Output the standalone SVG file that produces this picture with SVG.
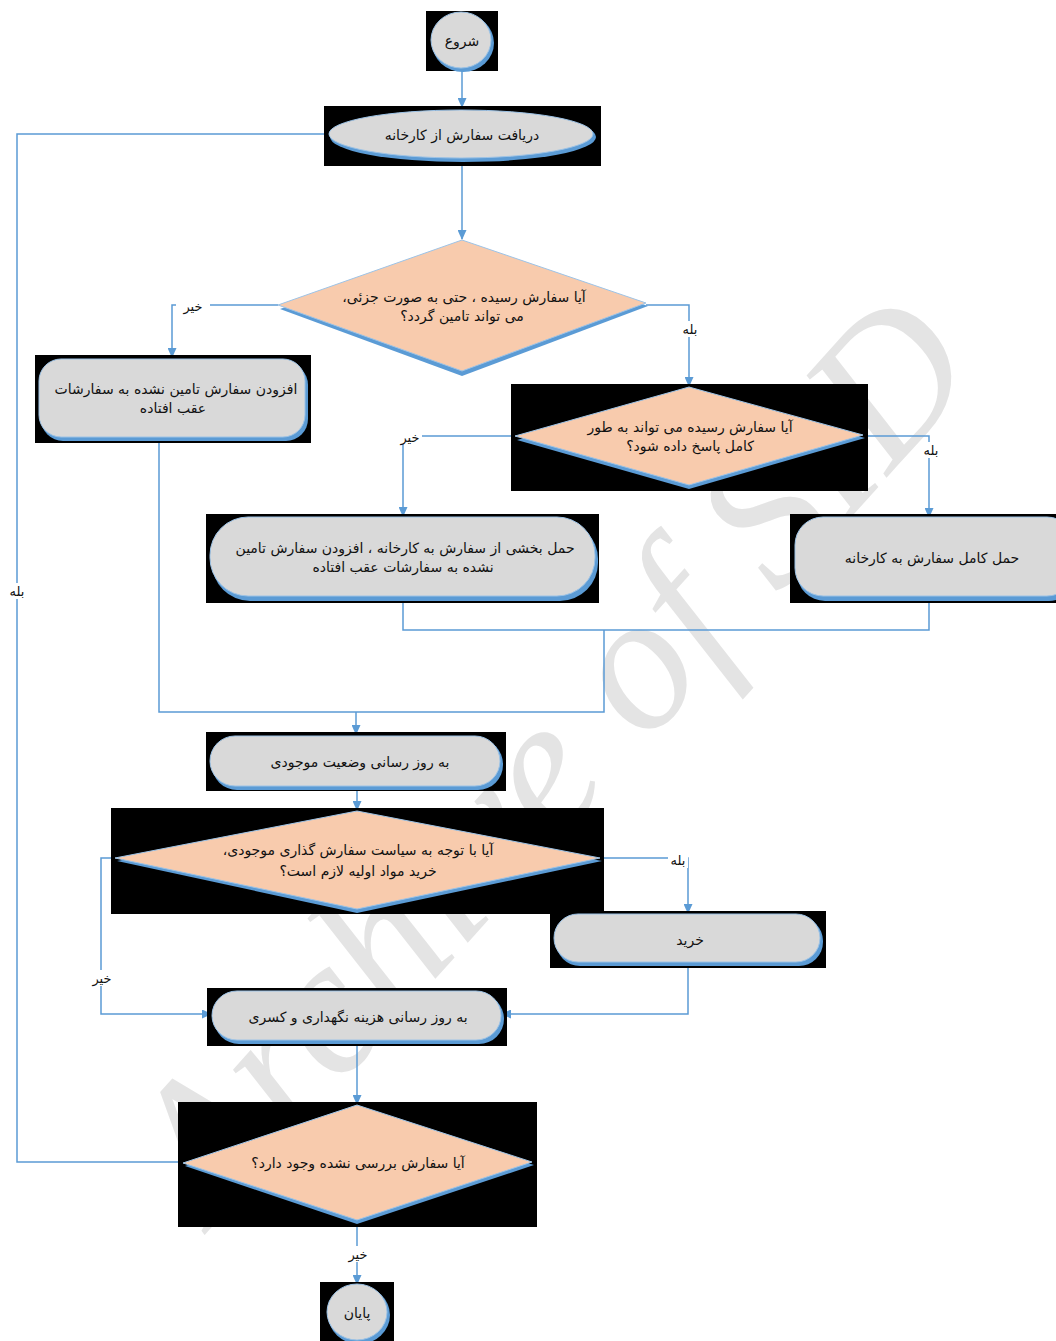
<svg xmlns="http://www.w3.org/2000/svg" width="1056" height="1341" viewBox="0 0 1056 1341">
<defs>
<marker id="ah" markerUnits="userSpaceOnUse" markerWidth="10" markerHeight="9" refX="9" refY="4.5" orient="auto" viewBox="0 0 10 9">
<path d="M0,0 L10,4.5 L0,9 Z" fill="#5b9bd5"/>
</marker>
<style>
.bg{fill:#000}
.sh{fill:#5b9bd5}
.gr{fill:#d9d9d9;stroke:#9dc3e6;stroke-width:1}
.dm{fill:#f8cbad;stroke:#9dc3e6;stroke-width:1}
.t{font-family:"DejaVu Sans",sans-serif;font-size:14px;fill:#111;text-anchor:middle;dominant-baseline:central;direction:rtl;unicode-bidi:embed}
.lb{font-family:"DejaVu Sans",sans-serif;font-size:13px;fill:#111;text-anchor:middle;dominant-baseline:central;direction:rtl;unicode-bidi:embed}
.c{fill:none;stroke:#5b9bd5;stroke-width:1.5}
.wm{font-family:"Liberation Serif",serif;font-style:italic;font-size:195px;fill:#e4e4e4;text-anchor:middle;dominant-baseline:central}
</style>
</defs>
<rect width="1056" height="1341" fill="#fff"/>
<text class="wm" x="548" y="755" transform="rotate(-48 548 755)">Archive of SID</text>

<g id="connectors">
<path class="c" d="M462,71 V107" marker-end="url(#ah)"/>
<path class="c" d="M462,166 V239" marker-end="url(#ah)"/>
<path class="c" d="M278,305 H172 V357" marker-end="url(#ah)"/>
<path class="c" d="M646,305 H689 V386" marker-end="url(#ah)"/>
<path class="c" d="M515,436 H403 V516" marker-end="url(#ah)"/>
<path class="c" d="M863,436 H929 V517" marker-end="url(#ah)"/>
<path class="c" d="M403,598 V630 H929 V598"/>
<path class="c" d="M159,440 V712 H604 V630"/>
<path class="c" d="M356,712 V734" marker-end="url(#ah)"/>
<path class="c" d="M357,788 V810" marker-end="url(#ah)"/>
<path class="c" d="M600,858 H688 V913" marker-end="url(#ah)"/>
<path class="c" d="M115,858 H101 V1014 H211" marker-end="url(#ah)"/>
<path class="c" d="M688,964 V1014 H502" marker-end="url(#ah)"/>
<path class="c" d="M357,1042 V1104" marker-end="url(#ah)"/>
<path class="c" d="M183,1162 H17 V134 H330"/>
<path class="c" d="M357,1221 V1284" marker-end="url(#ah)"/>
<rect x="176" y="299" width="34" height="15" fill="#fff"/>
<text class="lb" x="193" y="306">خیر</text>
<rect x="679" y="321" width="22" height="16" fill="#fff"/>
<text class="lb" x="690" y="329">بله</text>
<rect x="398" y="430" width="24" height="14" fill="#fff"/>
<text class="lb" x="410" y="437">خیر</text>
<rect x="920" y="442" width="22" height="16" fill="#fff"/>
<text class="lb" x="931" y="450">بله</text>
<rect x="668" y="852" width="20" height="16" fill="#fff"/>
<text class="lb" x="678" y="860">بله</text>
<rect x="89" y="970" width="26" height="16" fill="#fff"/>
<text class="lb" x="102" y="978">خیر</text>
<rect x="8" y="583" width="20" height="16" fill="#fff"/>
<text class="lb" x="17" y="591">بله</text>
<rect x="344" y="1246" width="28" height="16" fill="#fff"/>
<text class="lb" x="358" y="1254">خیر</text>
</g>

<g id="start">
<rect class="bg" x="426" y="11" width="72" height="60"/>
<ellipse class="sh" cx="463" cy="43" rx="31" ry="29"/>
<ellipse class="gr" cx="461" cy="40" rx="30" ry="28"/>
<text class="t" x="462" y="41">شروع</text>
</g>

<g id="receive">
<rect class="bg" x="324" y="106" width="277" height="60"/>
<ellipse class="sh" cx="463" cy="137" rx="133" ry="25"/>
<ellipse class="gr" cx="461" cy="134" rx="132" ry="24"/>
<text class="t" x="462" y="135">دریافت سفارش از کارخانه</text>
</g>

<g id="dec1">
<polygon class="sh" points="462,243 648,306 462,376 280,309"/>
<polygon class="dm" points="462,240 646,303 462,371 278,305"/>
<text class="t" x="464" y="297">آیا سفارش رسیده ، حتی به صورت جزئی،</text>
<text class="t" x="462" y="316">می تواند تامین گردد؟</text>
</g>

<g id="backorder">
<rect class="bg" x="35" y="355" width="276" height="88"/>
<rect class="sh" x="41" y="363" width="267" height="78" rx="22"/>
<rect class="gr" x="39" y="359" width="266" height="78" rx="22"/>
<text class="t" x="176" y="389">افزودن سفارش تامین نشده به سفارشات</text>
<text class="t" x="173" y="408">عقب افتاده</text>
</g>

<g id="dec2">
<rect class="bg" x="511" y="384" width="357" height="107"/>
<polygon class="sh" points="689,390 865,438 689,489 517,440"/>
<polygon class="dm" points="689,387 863,435 689,485 515,436"/>
<text class="t" x="690" y="427">آیا سفارش رسیده می تواند به طور</text>
<text class="t" x="690" y="446">کامل پاسخ داده شود؟</text>
</g>

<g id="partial">
<rect class="bg" x="206" y="514" width="393" height="89"/>
<rect class="sh" x="212" y="521" width="386" height="80" rx="38"/>
<rect class="gr" x="210" y="517" width="385" height="79" rx="38"/>
<text class="t" x="405" y="548">حمل بخشی از سفارش به کارخانه ، افزودن سفارش تامین</text>
<text class="t" x="403" y="567">نشده به سفارشات عقب افتاده</text>
</g>

<g id="full">
<rect class="bg" x="790" y="514" width="266" height="89"/>
<rect class="sh" x="797" y="521" width="280" height="80" rx="28"/>
<rect class="gr" x="795" y="517" width="280" height="79" rx="28"/>
<text class="t" x="932" y="558">حمل کامل سفارش به کارخانه</text>
</g>

<g id="inventory">
<rect class="bg" x="206" y="732" width="300" height="59"/>
<rect class="sh" x="212" y="739" width="291" height="51" rx="25"/>
<rect class="gr" x="210" y="736" width="290" height="50" rx="25"/>
<text class="t" x="360" y="762">به روز رسانی وضعیت موجودی</text>
</g>

<g id="dec3">
<rect class="bg" x="111" y="808" width="493" height="106"/>
<polygon class="sh" points="357,814 602,861 357,913 117,861"/>
<polygon class="dm" points="357,811 600,858 357,909 115,858"/>
<text class="t" x="358" y="850">آیا با توجه به سیاست سفارش گذاری موجودی،</text>
<text class="t" x="358" y="871">خرید مواد اولیه لازم است؟</text>
</g>

<g id="buy">
<rect class="bg" x="550" y="911" width="276" height="57"/>
<rect class="sh" x="556" y="917" width="267" height="49" rx="24"/>
<rect class="gr" x="554" y="914" width="266" height="48" rx="24"/>
<text class="t" x="690" y="940">خرید</text>
</g>

<g id="cost">
<rect class="bg" x="207" y="988" width="300" height="58"/>
<rect class="sh" x="214" y="994" width="290" height="50" rx="25"/>
<rect class="gr" x="212" y="991" width="289" height="49" rx="25"/>
<text class="t" x="358" y="1017">به روز رسانی هزینه نگهداری و کسری</text>
</g>

<g id="dec4">
<rect class="bg" x="178" y="1102" width="359" height="125"/>
<polygon class="sh" points="357,1108 534,1165 357,1224 185,1166"/>
<polygon class="dm" points="357,1105 532,1162 357,1220 183,1163"/>
<text class="t" x="358" y="1163">آیا سفارش بررسی نشده وجود دارد؟</text>
</g>

<g id="end">
<rect class="bg" x="320" y="1282" width="74" height="59"/>
<ellipse class="sh" cx="359" cy="1315" rx="31" ry="29"/>
<ellipse class="gr" cx="357" cy="1312" rx="30" ry="28"/>
<text class="t" x="357" y="1313">پایان</text>
</g>
</svg>
